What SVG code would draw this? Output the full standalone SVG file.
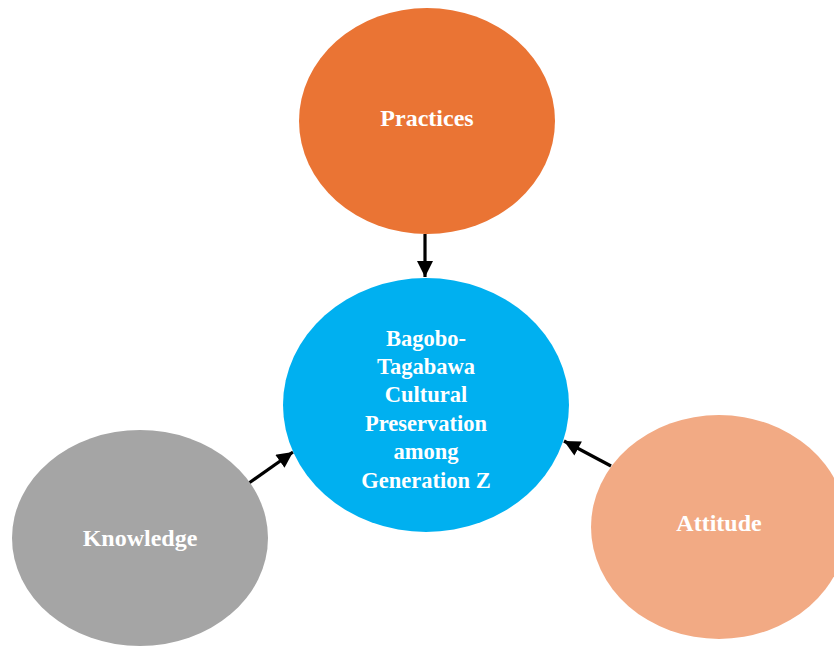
<svg xmlns="http://www.w3.org/2000/svg" width="834" height="648" viewBox="0 0 834 648">
<defs>
<style>
.lbl{font-family:"Liberation Serif","Times New Roman",serif;font-weight:bold;fill:#ffffff;text-anchor:middle}
.big{font-size:24px}
.ctr{font-size:22.5px}
.conn{stroke:#000;stroke-width:3.2;fill:none;marker-end:url(#ah)}
</style>
<marker id="ah" viewBox="0 0 10 10" refX="10" refY="5" markerWidth="5.2" markerHeight="5" orient="auto" markerUnits="strokeWidth">
<path d="M0,0 L10,5 L0,10 Z" fill="#000"/>
</marker>
</defs>
<rect width="834" height="648" fill="#ffffff"/>
<g id="connectors">
<line class="conn" x1="425" y1="234" x2="425" y2="277"/>
<line class="conn" x1="249" y1="483" x2="293" y2="452"/>
<line class="conn" x1="611" y1="466" x2="564" y2="441"/>
</g>
<g id="practices">
<ellipse cx="427" cy="121" rx="128" ry="113" fill="#EA7434"/>
<text class="lbl big" x="427" y="126">Practices</text>
</g>
<g id="center">
<ellipse cx="426" cy="405" rx="143" ry="127" fill="#00B0F0"/>
<text class="lbl ctr" x="426" y="346">Bagobo-</text>
<text class="lbl ctr" x="426" y="374">Tagabawa</text>
<text class="lbl ctr" x="426" y="402">Cultural</text>
<text class="lbl ctr" x="426" y="431">Preservation</text>
<text class="lbl ctr" x="426" y="459">among</text>
<text class="lbl ctr" x="426" y="488">Generation Z</text>
</g>
<g id="knowledge">
<ellipse cx="140" cy="538" rx="128" ry="108" fill="#A5A5A5"/>
<text class="lbl big" x="140" y="546">Knowledge</text>
</g>
<g id="attitude">
<ellipse cx="719" cy="527" rx="128" ry="112" fill="#F2AA84"/>
<text class="lbl big" x="719" y="531">Attitude</text>
</g>
</svg>
